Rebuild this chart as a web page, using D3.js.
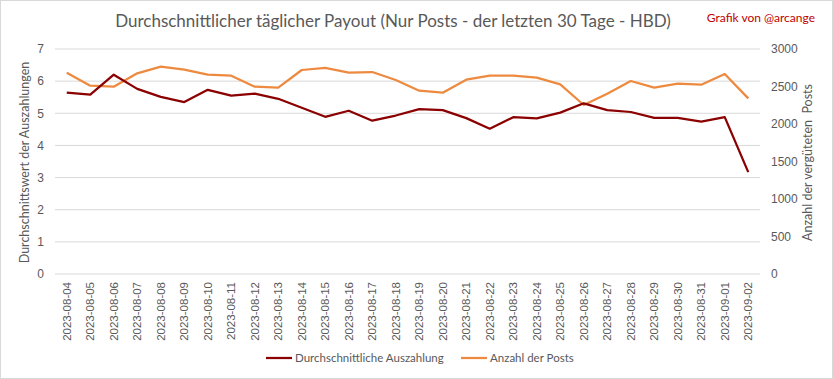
<!DOCTYPE html>
<html>
<head>
<meta charset="utf-8">
<script src="https://cdn.jsdelivr.net/npm/d3@7"></script>
<style>
  body { margin: 0; background: #fff; }
  svg { display: block; font-family: Lato, "Open Sans", sans-serif; }
</style>
</head>
<body>
<div id="chart"></div>
<script>
const dates = ["2023-08-04","2023-08-05","2023-08-06","2023-08-07","2023-08-08","2023-08-09","2023-08-10",
  "2023-08-11","2023-08-12","2023-08-13","2023-08-14","2023-08-15","2023-08-16","2023-08-17","2023-08-18",
  "2023-08-19","2023-08-20","2023-08-21","2023-08-22","2023-08-23","2023-08-24","2023-08-25","2023-08-26",
  "2023-08-27","2023-08-28","2023-08-29","2023-08-30","2023-08-31","2023-09-01","2023-09-02"];

const payout = [5.64,5.58,6.20,5.76,5.51,5.35,5.73,5.55,5.61,5.45,5.17,4.89,5.08,4.77,4.93,
  5.13,5.10,4.85,4.52,4.88,4.84,5.02,5.31,5.10,5.04,4.86,4.86,4.74,4.88,3.17];

const posts = [2684,2511,2497,2676,2764,2724,2658,2644,2497,2484,2720,2747,2684,2693,2587,
  2444,2418,2591,2644,2644,2618,2529,2253,2404,2573,2484,2537,2524,2667,2342];

const leftTicks = [0,1,2,3,4,5,6,7];
const rightTicks = [0,500,1000,1500,2000,2500,3000];

const width = 833, height = 379;
const plot = { left: 55, right: 760, top: 49, bottom: 274 };
const red = "#8b0000", orange = "#ed8a3f", grey = "#595959", grid = "#d9d9d9";

const svg = d3.select("#chart").append("svg")
  .attr("width", width)
  .attr("height", height);

// outer frame
svg.append("rect")
  .attr("x", 0.5).attr("y", 0.5)
  .attr("width", width - 1).attr("height", height - 1)
  .attr("fill", "#fff").attr("stroke", "#d9d9d9");

let x = d3.scaleBand().domain(dates).range([plot.left, plot.right]);
let yL = d3.scaleLinear().domain([0, 7]).range([plot.bottom, plot.top]);
let yR = d3.scaleLinear().domain([0, 3000]).range([plot.bottom, plot.top]);

// gridlines
svg.append("g")
  .selectAll("line")
  .data(leftTicks)
  .join("line")
  .attr("x1", plot.left).attr("x2", plot.right)
  .attr("y1", d => yL(d)).attr("y2", d => yL(d))
  .attr("stroke", grid).attr("stroke-width", 1);

// left axis
let yAxisL = d3.axisLeft(yL).tickValues(leftTicks).tickFormat(d3.format("d"))
  .tickSize(0).tickPadding(0);
svg.append("g")
  .attr("transform", `translate(${plot.left - 11}, 0)`)
  .call(yAxisL)
  .call(g => g.select(".domain").remove())
  .selectAll("text")
  .attr("fill", grey).attr("font-size", 12);

// right axis
let yAxisR = d3.axisRight(yR).tickValues(rightTicks).tickFormat(d3.format("d"))
  .tickSize(0).tickPadding(0);
svg.append("g")
  .attr("transform", `translate(${plot.right + 11}, 0)`)
  .call(yAxisR)
  .call(g => g.select(".domain").remove())
  .selectAll("text")
  .attr("fill", grey).attr("font-size", 12);

// x axis with rotated labels
let xAxis = d3.axisBottom(x).tickSize(0).tickPadding(0);
svg.append("g")
  .attr("transform", `translate(0, ${plot.bottom})`)
  .call(xAxis)
  .call(g => g.select(".domain").remove())
  .selectAll("text")
  .attr("fill", grey).attr("font-size", 11.5)
  .attr("transform", "rotate(-90)")
  .attr("text-anchor", "end")
  .attr("x", -8).attr("y", 0)
  .attr("dy", "0.35em");

// lines
let cx = d => x(d) + x.bandwidth() / 2;

svg.append("path")
  .datum(posts)
  .attr("fill", "none").attr("stroke", orange).attr("stroke-width", 2.25)
  .attr("stroke-linejoin", "round")
  .attr("d", d3.line().x((d, i) => cx(dates[i])).y(d => yR(d)));

svg.append("path")
  .datum(payout)
  .attr("fill", "none").attr("stroke", red).attr("stroke-width", 2.25)
  .attr("stroke-linejoin", "round")
  .attr("d", d3.line().x((d, i) => cx(dates[i])).y(d => yL(d)));

// titles
svg.append("text")
  .attr("x", 393).attr("y", 27)
  .attr("text-anchor", "middle")
  .attr("fill", grey).attr("font-size", 17)
  .text("Durchschnittlicher täglicher Payout (Nur Posts - der letzten 30 Tage - HBD)");

svg.append("text")
  .attr("x", 815).attr("y", 22)
  .attr("text-anchor", "end")
  .attr("fill", "#c00000").attr("font-size", 12)
  .text("Grafik von @arcange");

svg.append("text")
  .attr("transform", `translate(29, ${(plot.top + plot.bottom) / 2 + 1}) rotate(-90)`)
  .attr("text-anchor", "middle")
  .attr("fill", grey).attr("font-size", 12.5)
  .text("Durchschnittswert der Auszahlungen");

svg.append("text")
  .attr("transform", `translate(812, ${(plot.top + plot.bottom) / 2 + 1}) rotate(-90)`)
  .attr("text-anchor", "middle")
  .attr("fill", grey).attr("font-size", 12.5)
  .attr("xml:space", "preserve")
  .text("Anzahl der vergüteten  Posts");

// legend
const legend = [
  { label: "Durchschnittliche Auszahlung", color: red, x: 266 },
  { label: "Anzahl der Posts", color: orange, x: 461 }
];
let lg = svg.append("g").selectAll("g").data(legend).join("g")
  .attr("transform", d => `translate(${d.x}, 358)`);
lg.append("line")
  .attr("x1", 0).attr("x2", 26).attr("y1", 0).attr("y2", 0)
  .attr("stroke", d => d.color).attr("stroke-width", 2.25);
lg.append("text")
  .attr("x", 29).attr("dy", "0.35em")
  .attr("fill", grey).attr("font-size", 11.5)
  .text(d => d.label);
</script>
</body>
</html>
